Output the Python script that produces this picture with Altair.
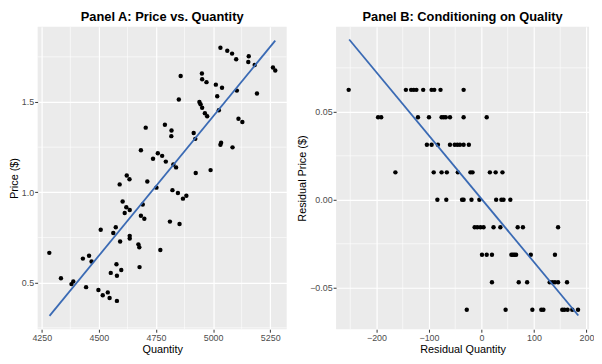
import altair as alt
import pandas as pd

# ---------------- Panel A data ----------------
quantity = [5032, 5062, 5083, 5101, 5156, 5154, 5182, 5262, 5272, 4858, 4951, 4952, 4971, 5012, 5039,
            5018, 5104, 5192, 4850, 4940, 4945, 4952, 4964, 4974, 5025, 5111, 5128, 4705, 4789, 4818,
            4817, 4915, 4922, 5035, 5032, 5085, 4684, 4737, 4758, 4777, 4793, 4826, 4838, 4924, 4989,
            4622,
            4591, 4634, 4712, 4752, 4822, 4846, 4868, 4883, 4811, 4853, 4604, 4620, 4613, 4635, 4692,
            4684, 4699, 4508, 4574, 4563, 4593, 4635, 4635, 4673, 4677, 4769, 4283, 4334, 4380, 4388,
            4430, 4457, 4468, 4444, 4577, 4552, 4598, 4579, 4678, 4498, 4517, 4539, 4547, 4579]
price = [1.800, 1.784, 1.768, 1.737, 1.753, 1.721, 1.705, 1.691, 1.674, 1.644, 1.658, 1.626, 1.610, 1.596, 1.579,
         1.532, 1.563, 1.547, 1.514, 1.500, 1.488, 1.468, 1.438, 1.421, 1.454, 1.407, 1.389, 1.358, 1.374, 1.342,
         1.311, 1.328, 1.296, 1.275, 1.263, 1.249, 1.233, 1.186, 1.216, 1.202, 1.170, 1.154, 1.138, 1.107, 1.123,
         1.093,
         1.044, 1.072, 1.060, 1.026, 1.012, 0.996, 0.965, 0.981, 0.838, 0.825, 0.949, 0.917, 0.886, 0.902, 0.933,
         0.870, 0.854, 0.793, 0.807, 0.775, 0.728, 0.759, 0.744, 0.712, 0.696, 0.681, 0.665, 0.524, 0.492, 0.507,
         0.633, 0.649, 0.617, 0.475, 0.602, 0.554, 0.570, 0.538, 0.586, 0.459, 0.430, 0.446, 0.415, 0.399]
fit_a_x = [4284, 5272]
fit_a_y = [0.316, 1.840]

# ---------------- Panel B data ----------------
resid_qty = [-253, -144, -134, -129, -124, -111, -95, -90, -78, -34,
             -197, -191, -121, -100, -76, -72, -68, -60, -34, 10,
             -104, -95, -83, -60, -51, -46, -41, -34, -24,
             -164, -91, -76, -66, -45, -21, -17, 16, 27, 40,
             -84, -67, -37, -34, -19, -4, 28, 38, 42, 55,
             -13, -8, -2, 4, 23, 36, 69, 79, 146,
             1, 10, 20, 57, 60, 63, 66, 94, 140,
             20, 71, 87, 130, 135, 140, 146, 163,
             -28, 46, 97, 114, 118, 154, 158, 164, 173, 184]
resid_price = [0.0625, 0.0625, 0.0625, 0.0625, 0.0625, 0.0625, 0.0625, 0.0625, 0.0625, 0.0625,
               0.0469, 0.0469, 0.0469, 0.0469, 0.0469, 0.0469, 0.0469, 0.0469, 0.0469, 0.0469,
               0.03125, 0.03125, 0.03125, 0.03125, 0.03125, 0.03125, 0.03125, 0.03125, 0.03125,
               0.0156, 0.0156, 0.0156, 0.0156, 0.0156, 0.0156, 0.0156, 0.0156, 0.0156, 0.0156,
               0.0, 0.0, 0.0, 0.0, 0.0, 0.0, 0.0, 0.0, 0.0, 0.0,
               -0.0156, -0.0156, -0.0156, -0.0156, -0.0156, -0.0156, -0.0156, -0.0156, -0.0156,
               -0.03125, -0.03125, -0.03125, -0.03125, -0.03125, -0.03125, -0.03125, -0.03125, -0.03125,
               -0.0469, -0.0469, -0.0469, -0.0469, -0.0469, -0.0469, -0.0469, -0.0469,
               -0.0625, -0.0625, -0.0625, -0.0625, -0.0625, -0.0625, -0.0625, -0.0625, -0.0625, -0.0625]
fit_b_x = [-252, 184.5]
fit_b_y = [0.0911, -0.0658]

# ---------------- ticks ----------------
a_x_ticks = [4250, 4500, 4750, 5000, 5250]
a_x_minor = [4375, 4625, 4875, 5125]
a_y_ticks = [0.5, 1.0, 1.5]
a_y_minor = [0.25, 0.75, 1.25, 1.75]
b_x_ticks = [-200, -100, 0, 100, 200]
b_x_minor = [-250, -150, -50, 50, 150]
b_y_ticks = [-0.05, 0.0, 0.05]
b_y_minor = [-0.025, 0.025, 0.075]

FONT = "Liberation Sans"
LINE_COLOR = "#3A6AB4"
MINOR_W = 0.6


def panel(title, xs, ys, fx, fy, xdom, ydom, xt, xm, yt, ym, xtitle, ytitle, yfmt, w, h):
    df = pd.DataFrame({"x": xs, "y": ys})
    fit = pd.DataFrame({"x": fx, "y": fy})
    xscale = alt.Scale(domain=xdom, nice=False, zero=False)
    yscale = alt.Scale(domain=ydom, nice=False, zero=False)
    xaxis = alt.Axis(values=xt, format="d")
    yaxis = alt.Axis(values=yt, format=yfmt)
    vminor = alt.Chart(pd.DataFrame({"mx": xm})).mark_rule(
        color="white", strokeWidth=MINOR_W).encode(
        x=alt.X("mx:Q", scale=xscale, title=xtitle, axis=xaxis))
    hminor = alt.Chart(pd.DataFrame({"my": ym})).mark_rule(
        color="white", strokeWidth=MINOR_W).encode(
        y=alt.Y("my:Q", scale=yscale, title=ytitle, axis=yaxis))
    pts = alt.Chart(df).mark_circle(size=20, color="black", opacity=1).encode(
        x=alt.X("x:Q", scale=xscale, title=xtitle, axis=xaxis),
        y=alt.Y("y:Q", scale=yscale, title=ytitle, axis=yaxis),
    )
    line = alt.Chart(fit).mark_line(color=LINE_COLOR, strokeWidth=1.8).encode(
        x=alt.X("x:Q", scale=xscale, title=xtitle, axis=xaxis),
        y=alt.Y("y:Q", scale=yscale, title=ytitle, axis=yaxis),
    )
    return alt.layer(vminor, hminor, pts, line).properties(
        width=w, height=h,
        title=alt.TitleParams(title, fontSize=13, fontWeight="bold", font=FONT,
                              anchor="middle", color="black", offset=3),
    )


pa = panel("Panel A: Price vs. Quantity", quantity, price, fit_a_x, fit_a_y,
           [4232, 5322], [0.242, 1.916], a_x_ticks, a_x_minor, a_y_ticks, a_y_minor,
           "Quantity", "Price ($)", ".1f", 252, 306)
pb = panel("Panel B: Conditioning on Quality", resid_qty, resid_price, fit_b_x, fit_b_y,
           [-277, 205], [-0.0736, 0.0983], b_x_ticks, b_x_minor, b_y_ticks, b_y_minor,
           "Residual Quantity", "Residual Price ($)", ".2f", 256, 306)

chart = alt.hconcat(pa, pb, spacing=9).configure_view(
    fill="#EBEBEB", strokeWidth=0
).configure_axis(
    labelFont=FONT, labelFontSize=9, labelColor="#4D4D4D",
    titleFont=FONT, titleFontSize=11, titleFontWeight="normal", titleColor="black",
    tickColor="#333333", tickSize=3, domain=False,
    gridColor="white", gridWidth=1.2, labelPadding=1, titlePadding=2,
).properties(background="white", padding=0)

chart.save("out.html", embed_options={"renderer": "svg", "actions": False})
